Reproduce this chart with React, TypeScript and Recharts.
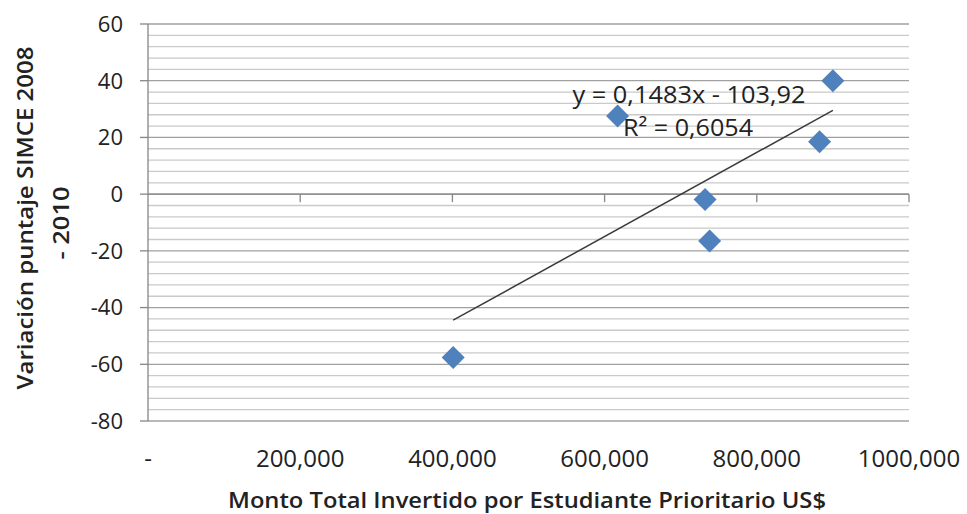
import { CartesianGrid, ReferenceLine, Scatter, ScatterChart, XAxis, YAxis } from 'recharts';

// Monto invertido por estudiante prioritario (US$) vs variación SIMCE 2008-2010
const investment = [401000, 617000, 732000, 738000, 882500, 900000];
const scoreChange = [-57.6, 27.6, -1.9, -16.5, 18.5, 40];

const xTicks = [0, 200000, 400000, 600000, 800000, 1000000];
const xTickLabels = ['-', '200,000', '400,000', '600,000', '800,000', '1000,000'];
const yTicks = [-80, -60, -40, -20, 0, 20, 40, 60];
const yMinorTicks = Array.from({ length: 36 }, (_, i) => -80 + i * 4).filter((v) => v % 20 !== 0);

// linear trend as reported on the chart (x in thousands)
const trendSlope = 0.1483;
const trendIntercept = -103.92;

const FONT = "'Open Sans', sans-serif";
const AXIS = '#868686';
const MARKER = '#4F81BD';

const points = investment.map((x, i) => ({ x, y: scoreChange[i] }));
const xMin = Math.min(...investment);
const xMax = Math.max(...investment);
const trendAt = (x: number) => trendSlope * (x / 1000) + trendIntercept;

const Diamond = (props: any) => {
  const { cx, cy } = props;
  const r = 11.5;
  return (
    <polygon
      points={`${cx},${cy - r} ${cx + r},${cy} ${cx},${cy + r} ${cx - r},${cy}`}
      fill={MARKER}
    />
  );
};

const XTick = (props: any) => {
  const { x, y, payload } = props;
  const idx = xTicks.indexOf(payload.value);
  return (
    <text x={x} y={y} dy={46} textAnchor="middle" fontFamily={FONT} fontSize={24} fill="#222">
      {xTickLabels[idx]}
    </text>
  );
};

export default function App() {
  const tickLen = 2.82; // 8px in y units

  return (
    <div style={{ position: 'absolute', left: 0, top: 0, width: 967, height: 514, background: '#fff' }}>
      <ScatterChart width={967} height={514} margin={{ top: 24, right: 58, left: 0, bottom: 0 }}>
        {yMinorTicks.map((v) => (
          <ReferenceLine key={`m${v}`} y={v} stroke="#cacaca" strokeWidth={1.3} />
        ))}
        <CartesianGrid vertical={false} stroke="#a0a0a0" strokeWidth={1.3} />
        <XAxis
          type="number"
          dataKey="x"
          domain={[0, 1000000]}
          ticks={xTicks}
          tick={<XTick />}
          axisLine={false}
          tickLine={false}
          tickSize={0}
          tickMargin={0}
          height={93}
          interval={0}
        />
        <YAxis
          type="number"
          dataKey="y"
          domain={[-80, 60]}
          ticks={yTicks}
          width={148}
          interval={0}
          axisLine={{ stroke: AXIS, strokeWidth: 1.3 }}
          tickLine={{ stroke: AXIS, strokeWidth: 1.3 }}
          tickSize={8}
          tickMargin={17}
          tick={{ fontFamily: FONT, fontSize: 22, fill: '#222' }}
        />
        <ReferenceLine y={0} stroke={AXIS} strokeWidth={1.3} />
        {xTicks.slice(1).map((t) => (
          <ReferenceLine
            key={`t${t}`}
            segment={[
              { x: t, y: 0 },
              { x: t, y: -tickLen },
            ]}
            stroke={AXIS}
            strokeWidth={1.3}
          />
        ))}
        <ReferenceLine
          segment={[
            { x: xMin, y: trendAt(xMin) },
            { x: xMax, y: trendAt(xMax) },
          ]}
          stroke="#3a3a3a"
          strokeWidth={1.5}
        />
        <Scatter data={points} shape={<Diamond />} isAnimationActive={false} />
      </ScatterChart>
      <svg
        width={967}
        height={514}
        style={{ position: 'absolute', left: 0, top: 0, pointerEvents: 'none' }}
      >
        <text
          x={689}
          y={103}
          textAnchor="middle"
          fontFamily={FONT}
          fontSize={24}
          fill="#222"
          textLength={233}
          lengthAdjust="spacingAndGlyphs"
        >
          y = 0,1483x - 103,92
        </text>
        <text
          x={688}
          y={136}
          textAnchor="middle"
          fontFamily={FONT}
          fontSize={24}
          fill="#222"
          textLength={130}
          lengthAdjust="spacingAndGlyphs"
        >
          R² = 0,6054
        </text>
        <text
          x={527}
          y={508}
          textAnchor="middle"
          fontFamily={FONT}
          fontSize={21}
          fontWeight={600}
          fill="#222"
          textLength={598}
          lengthAdjust="spacingAndGlyphs"
        >
          Monto Total Invertido por Estudiante Prioritario US$
        </text>
        <text
          x={33}
          y={218}
          transform="rotate(-90 33 218)"
          textAnchor="middle"
          fontFamily={FONT}
          fontSize={21}
          fontWeight={600}
          fill="#222"
          textLength={343}
          lengthAdjust="spacingAndGlyphs"
        >
          Variación puntaje  SIMCE 2008
        </text>
        <text
          x={69}
          y={223}
          transform="rotate(-90 69 223)"
          textAnchor="middle"
          fontFamily={FONT}
          fontSize={21}
          fontWeight={600}
          fill="#222"
          textLength={73}
          lengthAdjust="spacingAndGlyphs"
        >
          - 2010
        </text>
      </svg>
    </div>
  );
}
